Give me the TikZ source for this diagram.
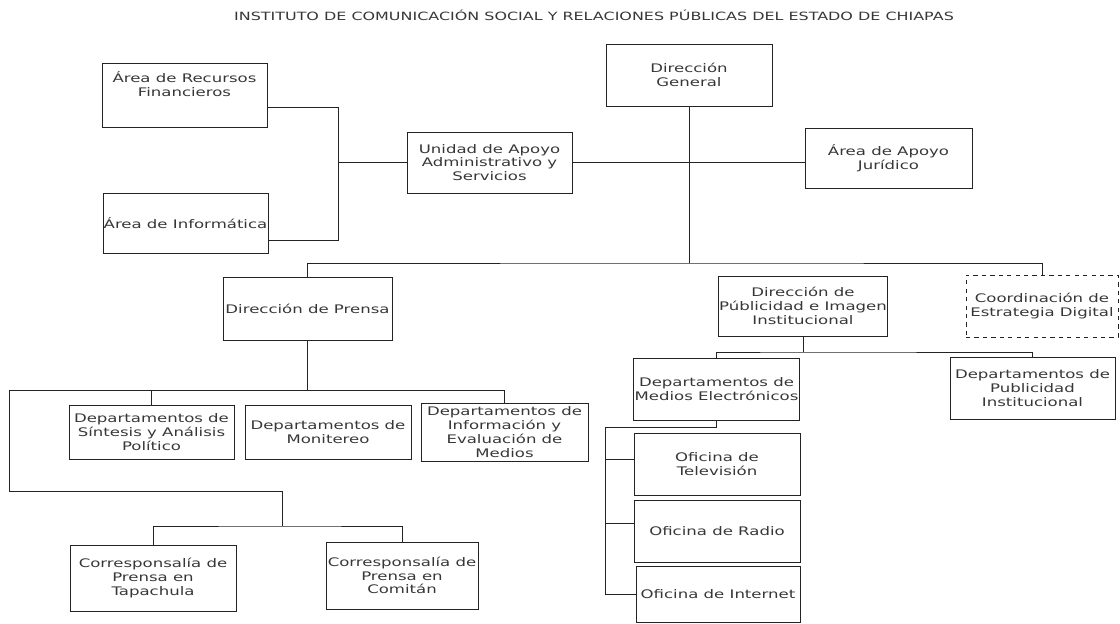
\documentclass[tikz,border=0pt]{standalone}
\usepackage{fontspec}
\setmainfont{DejaVu Sans}[FakeStretch=1.4]
\usepackage{tikz}
\definecolor{ink}{RGB}{35,35,35}
\definecolor{txt}{RGB}{55,55,55}
\def\px{0.025cm}
\tikzset{orgbox/.style={draw=ink,line width=0.7pt,rectangle,align=center,inner sep=0.5pt,text=txt,font=\fontsize{8.4}{9.8}\selectfont},
	link/.style={draw=ink,line width=0.7pt}}
\newcommand{\orgnode}[7][]{\node[orgbox,minimum width=#4*\px,minimum height=#5*\px,#1] (#6) at (#2,#3) {#7};}

\begin{document}
\begin{tikzpicture}[x=\px,y=-\px]
\useasboundingbox (0,0) rectangle (1120,624);
\node[text=txt,font=\fontsize{8.1}{9}\selectfont] (title) at (594,15) {INSTITUTO DE COMUNICACIÓN SOCIAL Y RELACIONES PÚBLICAS DEL ESTADO DE CHIAPAS};

\orgnode{689}{75}{166}{62}{dg}{Dirección\\General}
\orgnode{184.5}{95}{165}{64}{rec}{Área de Recursos\\Financieros\\[6pt]}
\orgnode{185.5}{223}{165}{60}{inf}{Área de Informática}
\orgnode{489.5}{162.5}{165}{61}{uni}{Unidad de Apoyo\\Administrativo y\\Servicios}
\orgnode{888.5}{158}{167}{60}{jur}{Área de Apoyo\\Jurídico}
\orgnode{307.5}{308.5}{169}{63}{dp}{Dirección de Prensa}
\orgnode{803}{306}{166}{60}{dpi}{Dirección de\\Públicidad e Imagen\\Institucional}
\orgnode[dashed]{1042}{306}{152}{62}{coord}{Coordinación de\\Estrategia Digital}
\orgnode{151.5}{432}{165}{54}{sin}{Departamentos de\\Síntesis y Análisis\\Político}
\orgnode{328}{432}{166}{54}{mon}{Departamentos de\\Monitereo}
\orgnode{504.5}{432}{167}{58}{info}{Departamentos de\\Información y\\Evaluación de\\Medios}
\orgnode{153}{578}{166}{66}{tap}{Corresponsalía de\\Prensa en\\Tapachula}
\orgnode{402}{575.5}{152}{67}{com}{Corresponsalía de\\Prensa en\\Comitán}
\orgnode{716.5}{389}{165}{62}{med}{Departamentos de\\Medios Electrónicos}
\orgnode{1032.5}{388}{165}{62}{pub}{Departamentos de\\Publicidad\\Institucional}
\orgnode{717}{464}{166}{62}{tv}{Oficina de\\Televisión}
\orgnode{717}{531}{166}{62}{radio}{Oficina de Radio}
\orgnode{718}{594}{164}{56}{int}{Oficina de Internet}

\coordinate (ja) at (338,162.5);
\coordinate (bus) at (689,263);
\coordinate (b2) at (307.5,390);
\coordinate (c1) at (9,390);
\coordinate (j3a) at (282,491);
\coordinate (j3) at (282,526);
\coordinate (b4) at (803,352);
\coordinate (b5) at (716.5,427);
\coordinate (c5) at (605,427);

\draw[link] ([yshift=-12*\px]rec.east) -| (ja);
\draw[link] ([yshift=-17*\px]inf.east) -| (ja);
\draw[link] (ja) -- (uni.west);
\draw[link] (uni.east) -- (uni.east -| jur.west);
\draw[link] (dg.south) -- (bus);
\draw[link] (dp.north) |- (bus) -| (coord.north);
\draw[link] (dp.south) -- (b2) -| (info.north);
\draw[link] (b2) -| (sin.north);
\draw[link] (b2) -- (c1) |- (j3a) -- (j3);
\draw[link] (tap.north) |- (j3) -| (com.north);
\draw[link] (dpi.south) -- (b4);
\draw[link] (med.north) |- (b4) -| (pub.north);
\draw[link] (med.south) -- (b5) -- (c5);
\draw[link] (c5) |- ([yshift=5*\px]tv.west);
\draw[link] (c5) |- ([yshift=8*\px]radio.west);
\draw[link] (c5) |- (int.west);
\end{tikzpicture}
\end{document}
